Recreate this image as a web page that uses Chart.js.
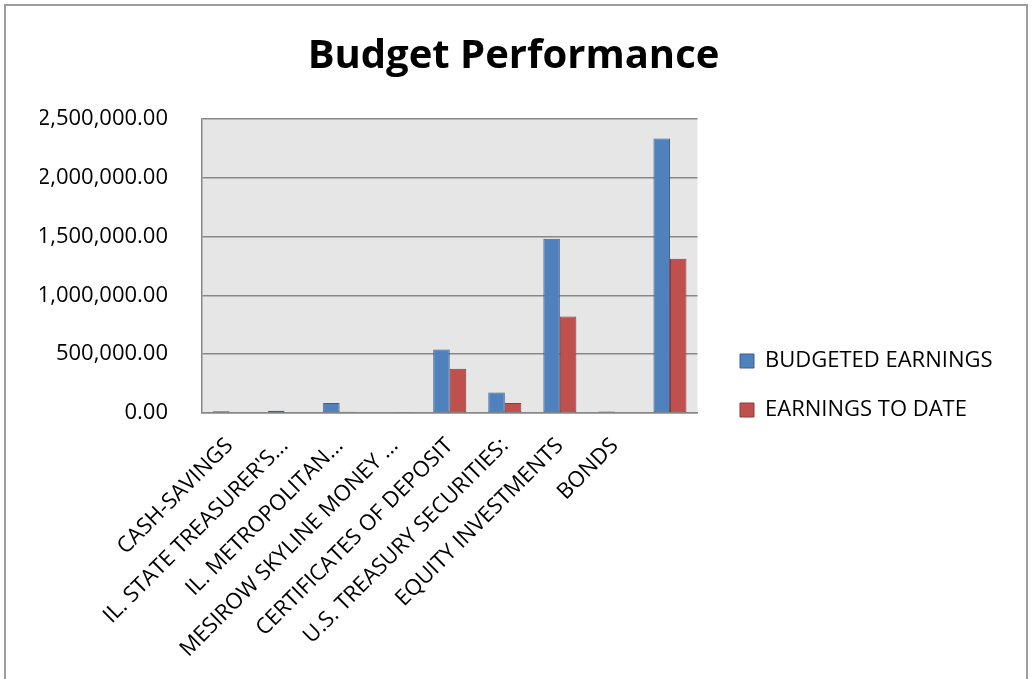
<!DOCTYPE html>
<html><head><meta charset="utf-8">
<script src="https://cdn.jsdelivr.net/npm/chart.js@4.4.1/dist/chart.umd.min.js"></script>
<style>html,body{margin:0;padding:0;background:#fff;overflow:hidden}canvas{display:block}</style>
</head><body>
<canvas id="c" width="1034" height="679"></canvas>
<script>
const categories = ["CASH-SAVINGS", "IL. STATE TREASURER'S...", "IL. METROPOLITAN...", "MESIROW SKYLINE MONEY ...", "CERTIFICATES OF DEPOSIT", "U.S. TREASURY SECURITIES:", "EQUITY INVESTMENTS", "BONDS", ""];
const budgetedEarnings = [14000, 20000, 85000, 6000, 540000, 175000, 1482000, 12000, 2334000];
const earningsToDate = [6000, 6000, 10000, 5000, 376000, 85000, 820000, 7000, 1312000];
const yTicks = [0, 500000, 1000000, 1500000, 2000000, 2500000];
const seriesNames = ["BUDGETED EARNINGS", "EARNINGS TO DATE"];

const FONT = "'Open Sans', 'Noto Sans', sans-serif";
const GRID = '#878787';

const decor = {
  id: 'decor',
  beforeDraw(chart) {
    const {ctx, chartArea: a} = chart;
    ctx.save();
    ctx.fillStyle = '#e6e6e6';
    ctx.fillRect(a.left, a.top, a.right - a.left, a.bottom - a.top);
    ctx.strokeStyle = '#9c9c9c';
    ctx.lineWidth = 2;
    ctx.strokeRect(5, 5, 1022, 720);
    ctx.restore();
  },
  afterLayout(chart) {
    const lg = chart.legend;
    if (!lg) return;
    const w = lg.width, h = lg.height;
    lg.left = 713; lg.right = 713 + w + 20;
    lg.top = 323; lg.bottom = 323 + h;
  }
};

new Chart(document.getElementById('c'), {
  type: 'bar',
  data: {
    labels: categories,
    datasets: [
      {label: seriesNames[0], data: budgetedEarnings, backgroundColor: '#4f81bd', borderColor: '#3a5f8b', borderWidth: 1, borderSkipped: false, categoryPercentage: 0.6, barPercentage: 1.0},
      {label: seriesNames[1], data: earningsToDate, backgroundColor: '#c0504d', borderColor: '#8e3b39', borderWidth: 1, borderSkipped: false, categoryPercentage: 0.6, barPercentage: 1.0}
    ]
  },
  options: {
    responsive: false,
    animation: false,
    layout: {padding: {left: 40, right: 47, top: 0, bottom: 0}},
    plugins: {
      title: {display: true, text: 'Budget Performance', color: '#000', font: {family: FONT, size: 40, weight: 'bold'}, padding: {top: 33, bottom: 38}},
      legend: {position: 'right', align: 'start', maxWidth: 400, labels: {color: '#000', font: {family: FONT, size: 22}, boxWidth: 14, boxHeight: 14, padding: 27}},
      tooltip: {enabled: false}
    },
    scales: {
      x: {
        grid: {display: false, drawTicks: false},
        border: {display: true, color: GRID, width: 1.5},
        ticks: {autoSkip: false, minRotation: 45, maxRotation: 45, color: '#000', font: {family: FONT, size: 22}, padding: 20},
        afterFit(s) { s.height = 266; }
      },
      y: {
        min: 0, max: 2500000,
        afterBuildTicks(s) { s.ticks = yTicks.map(v => ({value: v})); },
        grid: {color: GRID, lineWidth: 1.5, drawTicks: false},
        border: {display: true, color: GRID, width: 1.5},
        ticks: {color: '#000', font: {family: FONT, size: 22}, padding: 34,
          callback: v => Number(v).toLocaleString('en-US', {minimumFractionDigits: 2, maximumFractionDigits: 2})},
        afterFit(s) { s.width = 162; }
      }
    }
  },
  plugins: [decor]
});
</script>
</body></html>
